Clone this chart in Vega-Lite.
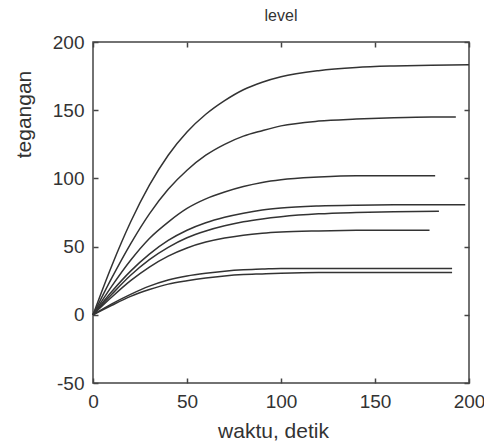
{
  "$schema": "https://vega.github.io/schema/vega-lite/v6.json",
  "autosize": "none",
  "padding": {"left": 93, "top": 42, "right": 15, "bottom": 58},
  "width": 376,
  "height": 341,
  "background": "white",
  "title": {"text": "level", "fontSize": 16, "fontWeight": "normal", "font": "Liberation Sans", "color": "#333", "offset": 9, "anchor": "middle"},
  "config": {
    "view": {"stroke": "#444", "strokeWidth": 1.5},
    "axis": {"grid": false, "domain": false, "labelFlush": false, "labelFont": "Liberation Sans", "titleFont": "Liberation Sans", "labelFontSize": 19, "titleFontSize": 21, "labelColor": "#333", "titleColor": "#333", "titleFontWeight": "normal", "tickColor": "#444", "tickWidth": 1.5, "tickSize": -5}
  },
  "data": {"values": [
    {"c": 1, "t": 0, "v": 0}, {"c": 1, "t": 10, "v": 36}, {"c": 1, "t": 20, "v": 68}, {"c": 1, "t": 30, "v": 95}, {"c": 1, "t": 40, "v": 117}, {"c": 1, "t": 50, "v": 134}, {"c": 1, "t": 60, "v": 147}, {"c": 1, "t": 70, "v": 157}, {"c": 1, "t": 80, "v": 165}, {"c": 1, "t": 90, "v": 170.5}, {"c": 1, "t": 100, "v": 174.5}, {"c": 1, "t": 120, "v": 179}, {"c": 1, "t": 140, "v": 181.3}, {"c": 1, "t": 160, "v": 182.4}, {"c": 1, "t": 180, "v": 183}, {"c": 1, "t": 200, "v": 183.3},
    {"c": 2, "t": 0, "v": 0}, {"c": 2, "t": 10, "v": 27}, {"c": 2, "t": 20, "v": 52}, {"c": 2, "t": 30, "v": 74}, {"c": 2, "t": 40, "v": 92}, {"c": 2, "t": 50, "v": 106}, {"c": 2, "t": 60, "v": 117}, {"c": 2, "t": 70, "v": 125}, {"c": 2, "t": 80, "v": 131}, {"c": 2, "t": 90, "v": 135}, {"c": 2, "t": 100, "v": 138.5}, {"c": 2, "t": 120, "v": 142}, {"c": 2, "t": 140, "v": 143.5}, {"c": 2, "t": 160, "v": 144.5}, {"c": 2, "t": 180, "v": 145}, {"c": 2, "t": 193, "v": 145},
    {"c": 3, "t": 0, "v": 0}, {"c": 3, "t": 10, "v": 21}, {"c": 3, "t": 20, "v": 40}, {"c": 3, "t": 30, "v": 56}, {"c": 3, "t": 40, "v": 68}, {"c": 3, "t": 50, "v": 78}, {"c": 3, "t": 60, "v": 85}, {"c": 3, "t": 70, "v": 90}, {"c": 3, "t": 80, "v": 94}, {"c": 3, "t": 90, "v": 97}, {"c": 3, "t": 100, "v": 99}, {"c": 3, "t": 120, "v": 101}, {"c": 3, "t": 140, "v": 102}, {"c": 3, "t": 160, "v": 102}, {"c": 3, "t": 182, "v": 102},
    {"c": 4, "t": 0, "v": 0}, {"c": 4, "t": 10, "v": 17}, {"c": 4, "t": 20, "v": 32}, {"c": 4, "t": 30, "v": 44.5}, {"c": 4, "t": 40, "v": 54.5}, {"c": 4, "t": 50, "v": 62}, {"c": 4, "t": 60, "v": 67.5}, {"c": 4, "t": 70, "v": 71.5}, {"c": 4, "t": 80, "v": 74.5}, {"c": 4, "t": 90, "v": 76.8}, {"c": 4, "t": 100, "v": 78.3}, {"c": 4, "t": 120, "v": 79.8}, {"c": 4, "t": 140, "v": 80.4}, {"c": 4, "t": 160, "v": 80.6}, {"c": 4, "t": 180, "v": 80.6}, {"c": 4, "t": 198, "v": 80.6},
    {"c": 5, "t": 0, "v": 0}, {"c": 5, "t": 10, "v": 15}, {"c": 5, "t": 20, "v": 29}, {"c": 5, "t": 30, "v": 40.5}, {"c": 5, "t": 40, "v": 49.5}, {"c": 5, "t": 50, "v": 56.5}, {"c": 5, "t": 60, "v": 61.5}, {"c": 5, "t": 70, "v": 65.3}, {"c": 5, "t": 80, "v": 68.2}, {"c": 5, "t": 90, "v": 70.3}, {"c": 5, "t": 100, "v": 71.9}, {"c": 5, "t": 120, "v": 74}, {"c": 5, "t": 140, "v": 75}, {"c": 5, "t": 160, "v": 75.6}, {"c": 5, "t": 184, "v": 76},
    {"c": 6, "t": 0, "v": 0}, {"c": 6, "t": 10, "v": 13}, {"c": 6, "t": 20, "v": 25}, {"c": 6, "t": 30, "v": 35}, {"c": 6, "t": 40, "v": 43}, {"c": 6, "t": 50, "v": 49}, {"c": 6, "t": 60, "v": 53.3}, {"c": 6, "t": 70, "v": 56.3}, {"c": 6, "t": 80, "v": 58.4}, {"c": 6, "t": 90, "v": 59.8}, {"c": 6, "t": 100, "v": 60.7}, {"c": 6, "t": 120, "v": 61.5}, {"c": 6, "t": 140, "v": 61.9}, {"c": 6, "t": 160, "v": 62}, {"c": 6, "t": 179, "v": 62},
    {"c": 7, "t": 0, "v": 0}, {"c": 7, "t": 10, "v": 8}, {"c": 7, "t": 20, "v": 15}, {"c": 7, "t": 30, "v": 21}, {"c": 7, "t": 40, "v": 25.5}, {"c": 7, "t": 50, "v": 28.5}, {"c": 7, "t": 60, "v": 30.5}, {"c": 7, "t": 70, "v": 32}, {"c": 7, "t": 80, "v": 33}, {"c": 7, "t": 90, "v": 33.5}, {"c": 7, "t": 100, "v": 34}, {"c": 7, "t": 120, "v": 34}, {"c": 7, "t": 191, "v": 34},
    {"c": 8, "t": 0, "v": 0}, {"c": 8, "t": 10, "v": 7}, {"c": 8, "t": 20, "v": 13.5}, {"c": 8, "t": 30, "v": 18.5}, {"c": 8, "t": 40, "v": 22.5}, {"c": 8, "t": 50, "v": 25}, {"c": 8, "t": 60, "v": 27}, {"c": 8, "t": 70, "v": 28.5}, {"c": 8, "t": 80, "v": 29.5}, {"c": 8, "t": 90, "v": 30}, {"c": 8, "t": 100, "v": 30.5}, {"c": 8, "t": 120, "v": 31}, {"c": 8, "t": 191, "v": 31}
  ]},
  "layer": [
    {
      "mark": {"type": "line", "color": "#333", "strokeWidth": 1.5, "interpolate": "monotone"},
      "encoding": {
        "x": {"field": "t", "type": "quantitative", "scale": {"domain": [0, 200], "nice": false},
              "axis": {"orient": "bottom", "values": [0, 50, 100, 150, 200], "title": "waktu, detik", "labelPadding": 14, "titleX": 180, "titleY": 54, "titleBaseline": "alphabetic", "titleAnchor": null}},
        "y": {"field": "v", "type": "quantitative", "scale": {"domain": [-50, 200], "nice": false},
              "axis": {"orient": "left", "values": [-50, 0, 50, 100, 150, 200], "labelExpr": "'' + datum.value", "title": "tegangan", "labelPadding": 14, "titleX": -69, "titleY": 72, "titleAlign": "center", "titleBaseline": "middle", "titleAngle": -90}},
        "detail": {"field": "c", "type": "nominal"}
      }
    },
    {
      "mark": {"type": "line", "strokeOpacity": 0},
      "encoding": {
        "x": {"field": "t", "type": "quantitative", "axis": {"orient": "top", "values": [0, 50, 100, 150, 200], "labels": false, "title": null}},
        "y": {"field": "v", "type": "quantitative", "axis": {"orient": "right", "values": [-50, 0, 50, 100, 150, 200], "labels": false, "title": null}},
        "detail": {"field": "c", "type": "nominal"}
      }
    }
  ],
  "resolve": {"axis": {"x": "independent", "y": "independent"}}
}
